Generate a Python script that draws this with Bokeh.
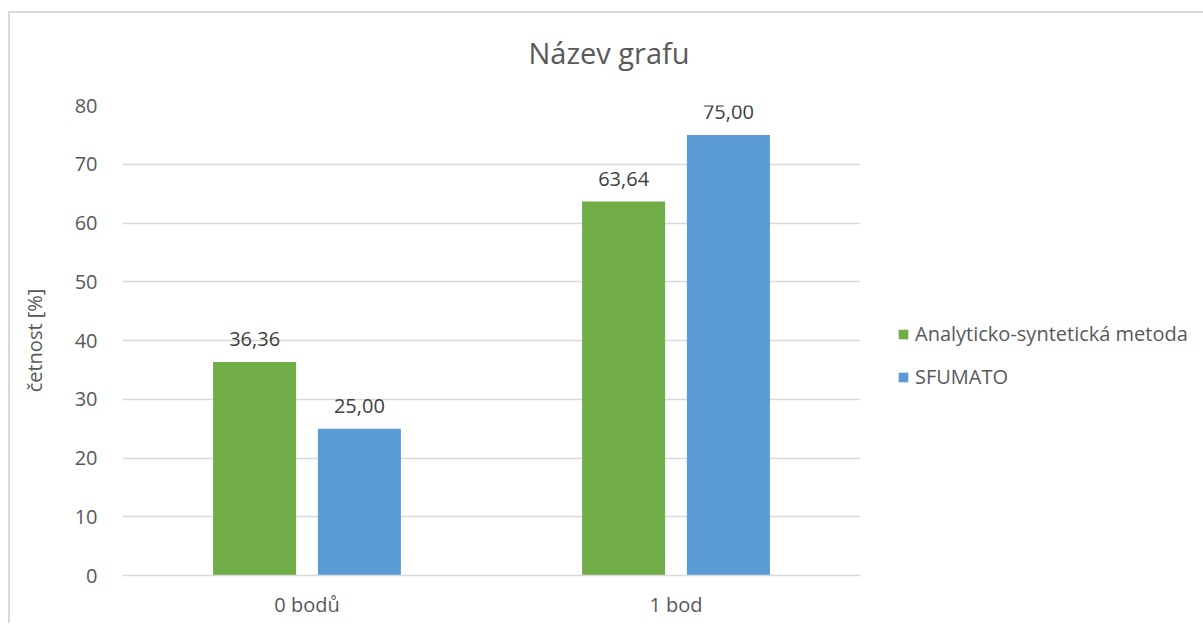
from bokeh.plotting import figure
from bokeh.models import FactorRange, Range1d, Legend, LegendItem, ColumnDataSource, FixedTicker, Title
from bokeh.transform import dodge
from bokeh.core.properties import value
from bokeh.embed import file_html
from bokeh.resources import INLINE

categories = ["0 bodů", "1 bod"]
series_names = ["Analyticko-syntetická metoda", "SFUMATO"]
analyticko = [36.36, 63.64]
sfumato = [25.00, 75.00]
y_ticks = [0, 10, 20, 30, 40, 50, 60, 70, 80]
colors = ["#70AD47", "#5B9BD5"]
chart_title = "Název grafu"

FONT = "Open Sans"
TXT = "#595959"

def fmt(v):
    return f"{v:.2f}".replace(".", ",")

src = ColumnDataSource(dict(
    cat=categories,
    a=analyticko,
    s=sfumato,
    a_lbl=[fmt(v) for v in analyticko],
    s_lbl=[fmt(v) for v in sfumato],
))

p = figure(
    x_range=FactorRange(*categories, range_padding=0),
    y_range=Range1d(0, 80),
    frame_width=738, frame_height=470,
    min_border_left=112, min_border_right=343, min_border_top=92, min_border_bottom=48,
    output_backend="svg", toolbar_location=None,
)
p.styles = {"border-left": "2px solid #d9d9d9", "border-top": "2px solid #d9d9d9",
            "margin-top": "11px", "margin-left": "8px"}
p.outline_line_color = None
p.background_fill_color = "white"
p.border_fill_color = "white"

# spacer between title and frame, then the title itself
p.add_layout(Title(text=" ", standoff=31, text_font_size="1px", text_color="white"), "above")
p.add_layout(Title(text=chart_title, align="left", offset=406, standoff=0,
                   text_font=FONT, text_font_size="29px", text_font_style="normal",
                   text_color=TXT), "above")

off = 0.142
bw = 0.225
r1 = p.vbar(x=dodge("cat", -off, range=p.x_range), top="a", width=bw, source=src,
            fill_color=colors[0], line_color=None)
r2 = p.vbar(x=dodge("cat", off, range=p.x_range), top="s", width=bw, source=src,
            fill_color=colors[1], line_color=None)

for col, lbl in ((-off, "a"), (off, "s")):
    p.text(x=dodge("cat", col, range=p.x_range), y=lbl, text=lbl + "_lbl", source=src,
           text_align="center", text_baseline="middle", y_offset=-23,
           text_font=value(FONT), text_font_size="20px", text_color="#404040")

# axes
p.yaxis.ticker = FixedTicker(ticks=y_ticks)
p.yaxis.axis_line_color = None
p.yaxis.major_tick_line_color = None
p.yaxis.minor_tick_line_color = None
p.yaxis.major_label_standoff = 19
p.yaxis.major_label_text_font = FONT
p.yaxis.major_label_text_font_size = "20px"
p.yaxis.major_label_text_color = TXT
p.yaxis.axis_label = "četnost [%]"
p.yaxis.axis_label_text_font = FONT
p.yaxis.axis_label_text_font_size = "20px"
p.yaxis.axis_label_text_font_style = "normal"
p.yaxis.axis_label_text_color = TXT
p.yaxis.axis_label_standoff = 24

p.xaxis.axis_line_color = "#d9d9d9"
p.xaxis.axis_line_width = 1.5
p.xaxis.major_tick_line_color = None
p.xaxis.minor_tick_line_color = None
p.xaxis.major_tick_out = 0
p.xaxis.major_label_standoff = 15
p.xaxis.major_label_text_font = FONT
p.xaxis.major_label_text_font_size = "20px"
p.xaxis.major_label_text_color = TXT

p.xgrid.grid_line_color = None
p.ygrid.grid_line_color = "#d9d9d9"
p.ygrid.grid_line_width = 1.5

legend = Legend(items=[LegendItem(label=series_names[0], renderers=[r1]),
                       LegendItem(label=series_names[1], renderers=[r2])],
                location=(37, 185), orientation="vertical",
                glyph_width=12, glyph_height=12, label_height=12, spacing=16,
                label_standoff=6, padding=0, margin=0,
                border_line_color=None, background_fill_alpha=0,
                label_text_font=FONT, label_text_font_size="20px", label_text_color=TXT)
p.add_layout(legend, "right")

open("out.html", "w").write(file_html(p, INLINE))
